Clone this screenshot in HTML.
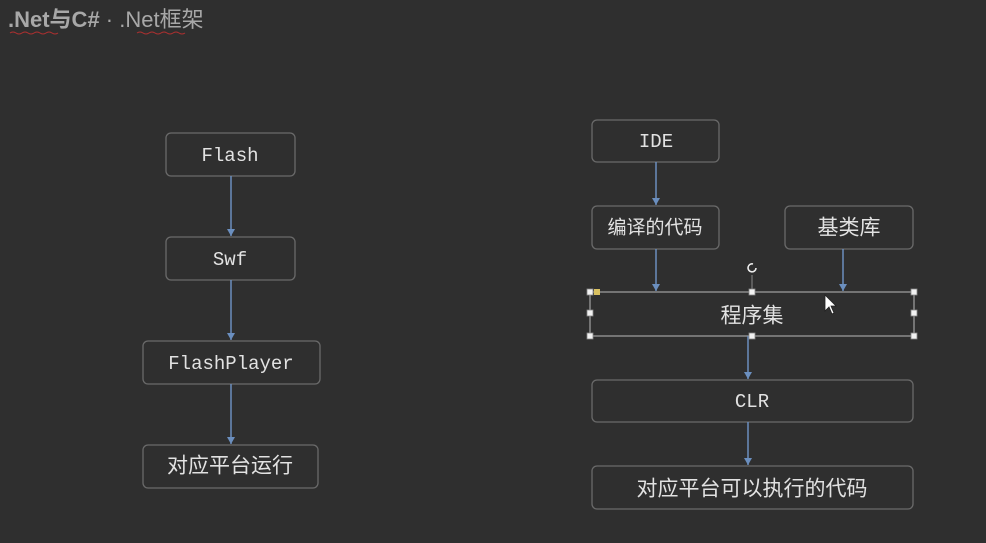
<!DOCTYPE html>
<html><head><meta charset="utf-8"><style>
html,body{margin:0;padding:0;background:#2f2f2f;width:986px;height:543px;overflow:hidden}
svg{display:block}
.b{fill:#2f2f2f;stroke:#6a6a6a;stroke-width:1.3}
.t{fill:#e2e2e2;font-family:"Liberation Mono","Noto Sans CJK SC",monospace;font-size:19px;text-anchor:middle;dominant-baseline:central}
.c{fill:#e2e2e2;font-family:"Liberation Sans","Noto Sans CJK SC",sans-serif;font-size:21px;text-anchor:middle;dominant-baseline:central}
.a{stroke:#6b8fbf;stroke-width:1.5}
.h{fill:#f2f2f2;stroke:#888;stroke-width:0.8}
</style></head><body>
<svg width="986" height="543" viewBox="0 0 986 543">
<defs><marker id="m" markerWidth="8" markerHeight="8" refX="7" refY="4" orient="auto" markerUnits="userSpaceOnUse"><path d="M0,0 L7,4 L0,8 z" fill="#6b8fbf"/></marker></defs>
<text x="8" y="27" fill="#a8a8a8" font-family="Liberation Sans,Noto Sans CJK SC,sans-serif" font-size="22" font-weight="bold">.Net与C#<tspan font-weight="normal"> · .Net框架</tspan></text>
<path d="M10,33 q3,-2 6,0 t6,0 t6,0 t6,0 t6,0 t6,0 t6,0 t6,0 M137,33 q3,-2 6,0 t6,0 t6,0 t6,0 t6,0 t6,0 t6,0 t6,0" stroke="#b03030" fill="none" stroke-width="1"/>
<rect class="b" x="166" y="133" width="129" height="43" rx="5"/><text class="t" x="230" y="156">Flash</text>
<rect class="b" x="166" y="237" width="129" height="43" rx="5"/><text class="t" x="230" y="260">Swf</text>
<rect class="b" x="143" y="341" width="177" height="43" rx="5"/><text class="t" x="231" y="364">FlashPlayer</text>
<rect class="b" x="143" y="445" width="175" height="43" rx="5"/><text class="c" x="230" y="466">对应平台运行</text>
<line class="a" x1="231" y1="176" x2="231" y2="236" marker-end="url(#m)"/>
<line class="a" x1="231" y1="280" x2="231" y2="340" marker-end="url(#m)"/>
<line class="a" x1="231" y1="384" x2="231" y2="444" marker-end="url(#m)"/>
<rect class="b" x="592" y="120" width="127" height="42" rx="5"/><text class="t" x="656" y="142">IDE</text>
<rect class="b" x="592" y="206" width="127" height="43" rx="5"/><text class="c" x="655" y="228" style="font-size:19px">编译的代码</text>
<rect class="b" x="785" y="206" width="128" height="43" rx="5"/><text class="c" x="849" y="228">基类库</text>
<rect x="590" y="292" width="324" height="44" fill="#2f2f2f" stroke="#9a9a9a" stroke-width="1.3"/><text class="c" x="752" y="316">程序集</text>
<rect class="b" x="592" y="380" width="321" height="42" rx="5"/><text class="t" x="752" y="402">CLR</text>
<rect class="b" x="592" y="466" width="321" height="43" rx="5"/><text class="c" x="752" y="489">对应平台可以执行的代码</text>
<line class="a" x1="656" y1="162" x2="656" y2="205" marker-end="url(#m)"/>
<line class="a" x1="656" y1="249" x2="656" y2="291" marker-end="url(#m)"/>
<line class="a" x1="843" y1="249" x2="843" y2="291" marker-end="url(#m)"/>
<line class="a" x1="748" y1="336" x2="748" y2="379" marker-end="url(#m)"/>
<line class="a" x1="748" y1="422" x2="748" y2="465" marker-end="url(#m)"/>
<rect class="h" x="587" y="289" width="6" height="6"/><rect x="594" y="289" width="6" height="6" fill="#d8c060"/>
<rect class="h" x="749" y="289" width="6" height="6"/><rect class="h" x="911" y="289" width="6" height="6"/>
<rect class="h" x="587" y="310" width="6" height="6"/><rect class="h" x="911" y="310" width="6" height="6"/>
<rect class="h" x="587" y="333" width="6" height="6"/><rect class="h" x="749" y="333" width="6" height="6"/><rect class="h" x="911" y="333" width="6" height="6"/>
<path d="M756,268 a4,4 0 1 1 -3,-4" stroke="#eee" stroke-width="1.6" fill="none"/><line x1="752" y1="275" x2="752" y2="289" stroke="#888"/>
<path d="M825,295 l0,16 l4,-4 l3,7 l2,-1 l-3,-7 l5,0 z" fill="#fff" stroke="#222" stroke-width="0.8"/>
</svg>
</body></html>
